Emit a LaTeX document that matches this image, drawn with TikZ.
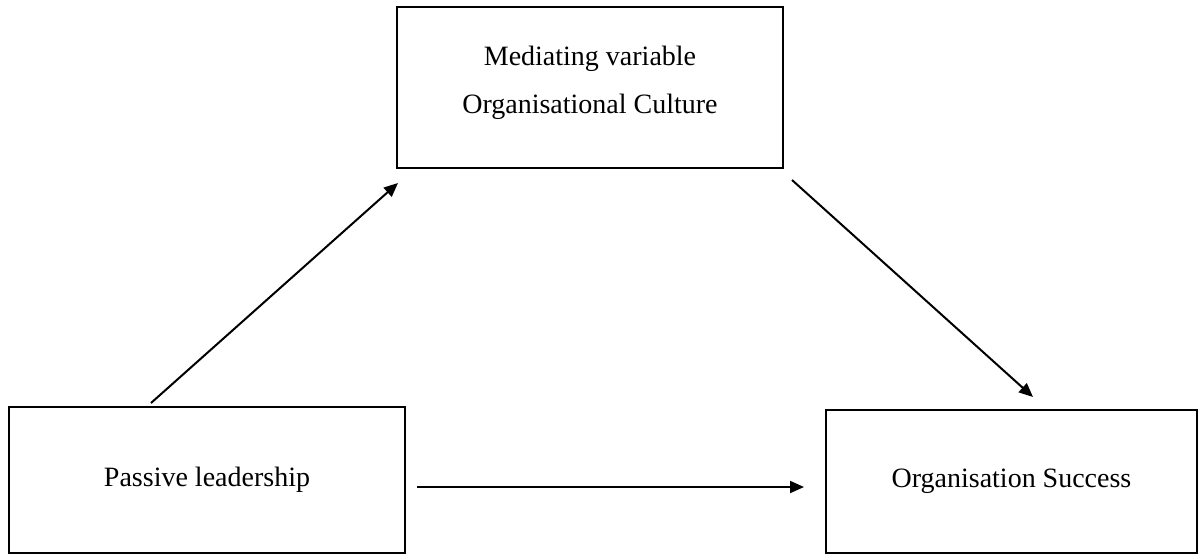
\documentclass[tikz,border=0pt]{standalone}
\usepackage{fontspec}
\setmainfont{Liberation Serif}
\usetikzlibrary{arrows.meta}
\begin{document}
\begin{tikzpicture}[x=1pt,y=-1pt,
  box/.style={draw,line width=2.4pt,inner sep=0pt,align=center,font=\fontsize{28}{48}\selectfont},
  txt/.style={inner sep=0pt,align=center,font=\fontsize{28}{48}\selectfont},
  conn/.style={line width=2pt,-{Triangle[length=14pt,width=12pt]}}]
\useasboundingbox (0,0) rectangle (1198,555);
\node[box,minimum width=386pt,minimum height=161pt] (med) at (590,87.5) {};
\node[txt] (medtxt) at (590,82.5) {Mediating variable\\Organisational Culture};
\node[box,minimum width=396pt,minimum height=146pt] (pl) at (207,480) {Passive leadership};
\node[box,minimum width=371pt,minimum height=143pt] (os) at (1011.5,481.5) {Organisation Success};
\coordinate (a1s) at (151,403);
\coordinate (a1e) at (398,183);
\coordinate (a2s) at (792,180);
\coordinate (a2e) at (1033,397);
\coordinate (a3s) at (417,487);
\coordinate (a3e) at (804,487);
\draw[conn] (a1s) -- (a1e);
\draw[conn] (a2s) -- (a2e);
\draw[conn] (a3s) -- (a3e);
\end{tikzpicture}
\end{document}
